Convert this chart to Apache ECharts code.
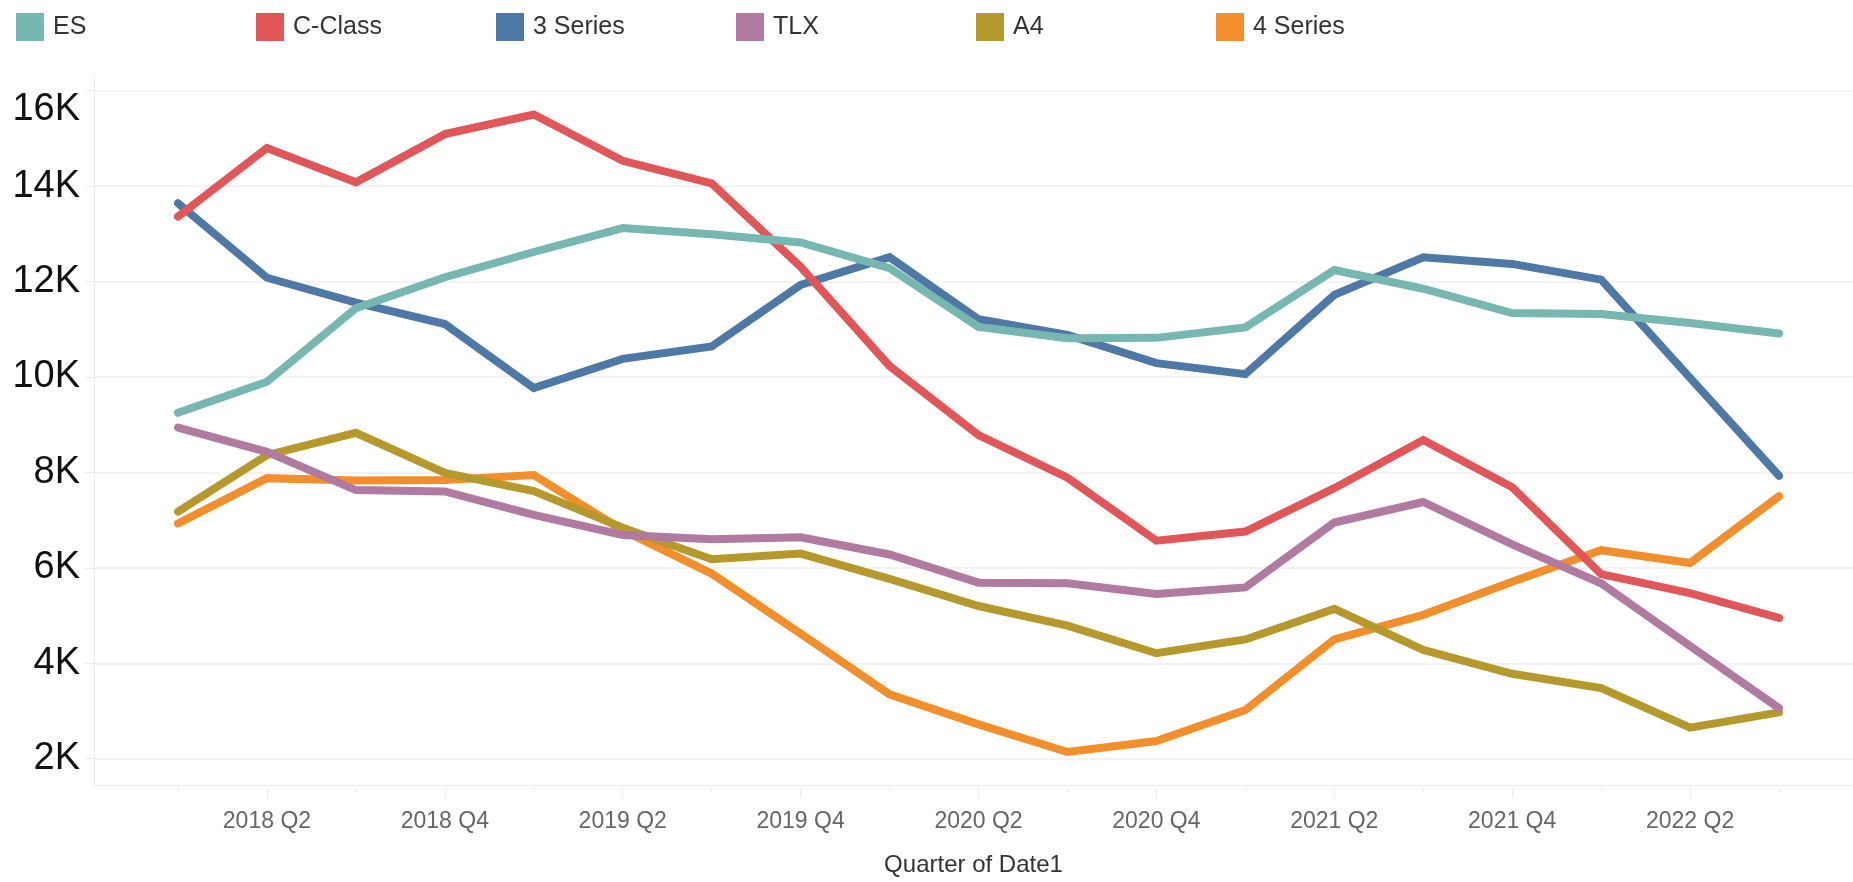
<!DOCTYPE html>
<html>
<head>
<meta charset="utf-8">
<title>Quarterly sales by model</title>
<script src="https://cdn.jsdelivr.net/npm/echarts/dist/echarts.min.js"></script>
<style>
  html, body { margin: 0; padding: 0; background: #fff; }
  #chart { width: 1853px; height: 882px; }
</style>
</head>
<body>
<div id="chart"></div>
<script>
// data (quarterly sales)
const quarters = [
  '2018 Q1', '2018 Q2', '2018 Q3', '2018 Q4',
  '2019 Q1', '2019 Q2', '2019 Q3', '2019 Q4',
  '2020 Q1', '2020 Q2', '2020 Q3', '2020 Q4',
  '2021 Q1', '2021 Q2', '2021 Q3', '2021 Q4',
  '2022 Q1', '2022 Q2', '2022 Q3',
];
const esSales = [9250, 9900, 11440, 12090, 12620, 13120, 12990, 12820, 12280, 11050, 10810, 10820, 11040, 12240, 11850, 11340, 11320, 11130, 10910];
const cClassSales = [13360, 14800, 14080, 15090, 15500, 14530, 14060, 12310, 10230, 8780, 7890, 6570, 6760, 7670, 8680, 7690, 5870, 5470, 4950];
const series3Sales = [13640, 12080, 11560, 11110, 9770, 10380, 10640, 11930, 12510, 11210, 10880, 10290, 10060, 11720, 12510, 12370, 12040, 9980, 7930];
const tlxSales = [8940, 8430, 7630, 7600, 7110, 6690, 6600, 6640, 6280, 5690, 5675, 5450, 5590, 6950, 7380, 6490, 5675, 4360, 3060];
const a4Sales = [7180, 8360, 8830, 7990, 7610, 6840, 6180, 6300, 5770, 5200, 4790, 4210, 4500, 5140, 4280, 3780, 3480, 2650, 2970];
const series4Sales = [6930, 7880, 7830, 7840, 7945, 6790, 5880, 4620, 3350, 2720, 2140, 2370, 3020, 4500, 5015, 5710, 6370, 6100, 7500];

const yTicks = { min: 2000, max: 16000, step: 2000 };

const models = [
  { name: 'ES', data: esSales, color: '#76b7b2' },
  { name: 'C-Class', data: cClassSales, color: '#e15759' },
  { name: '3 Series', data: series3Sales, color: '#4e79a7' },
  { name: 'TLX', data: tlxSales, color: '#b07aa1' },
  { name: 'A4', data: a4Sales, color: '#b6992d' },
  { name: '4 Series', data: series4Sales, color: '#f28e2b' },
];

const font = '"Liberation Sans", Arial, sans-serif';
const lineGrey = '#ebebeb';

// pixel layout of the plot pane
const gridTop = 90.7;     // 16K line
const gridBottom = 758.7; // 2K line
const paneTop = 76.7;
const paneBottom = 788;
const pxPerUnit = (gridBottom - gridTop) / (yTicks.max - yTicks.min);
const dataMax = yTicks.max + (gridTop - paneTop) / pxPerUnit;
const dataMin = yTicks.min - (paneBottom - gridBottom) / pxPerUnit;

const chart = echarts.init(document.getElementById('chart'));

chart.setOption({
  animation: false,
  textStyle: { fontFamily: font },
  color: models.map(m => m.color),
  legend: models.map((m, i) => ({
    data: [m.name],
    left: 16 + 240 * i,
    top: 13,
    padding: 0,
    itemWidth: 28,
    itemHeight: 28,
    icon: 'rect',
    selectedMode: false,
    textStyle: {
      fontSize: 25,
      color: '#333',
      fontFamily: font,
      padding: [2, 0, 0, 4],
    },
  })),
  grid: [
    // gridlines + y labels
    { left: 94, right: 0, top: gridTop, bottom: 882 - gridBottom },
    // pane frame
    { left: 94, right: 0, top: paneTop, bottom: 882 - paneBottom },
    // data
    { left: 178, right: 74, top: paneTop, bottom: 882 - paneBottom },
  ],
  xAxis: [
    { gridIndex: 0, type: 'value', show: false, min: 0, max: 1 },
    {
      gridIndex: 1,
      type: 'value',
      position: 'bottom',
      min: 0,
      max: 1,
      axisLine: { show: true, lineStyle: { color: lineGrey, width: 1 } },
      axisTick: { show: false },
      axisLabel: { show: false },
      splitLine: { show: false },
      name: 'Quarter of Date1',
      nameLocation: 'middle',
      nameGap: 68,
      nameTextStyle: { fontSize: 24, color: '#333', fontFamily: font },
    },
    {
      gridIndex: 2,
      type: 'category',
      position: 'bottom',
      offset: 0,
      data: quarters,
      boundaryGap: false,
      axisLine: { show: false },
      axisTick: {
        show: true,
        length: 10,
        interval: (i) => i % 2 === 1,
        lineStyle: { color: lineGrey },
      },
      axisLabel: {
        interval: (i) => i % 2 === 1,
        margin: 22,
        fontSize: 23,
        color: '#666',
        fontFamily: font,
      },
      splitLine: { show: false },
    },
    {
      gridIndex: 2,
      type: 'category',
      position: 'bottom',
      offset: 0,
      data: quarters,
      boundaryGap: false,
      axisLine: { show: false },
      axisTick: { show: true, length: 4, interval: 0, lineStyle: { color: lineGrey } },
      axisLabel: { show: false },
      splitLine: { show: false },
    },
  ],
  yAxis: [
    {
      gridIndex: 0,
      type: 'value',
      min: yTicks.min,
      max: yTicks.max,
      interval: yTicks.step,
      axisLine: { show: false },
      axisTick: { show: true, length: 9, lineStyle: { color: lineGrey } },
      axisLabel: {
        margin: 14,
        fontSize: 38,
        color: '#111',
        fontFamily: font,
        verticalAlignMaxLabel: 'top',
        formatter: (v) => v / 1000 + 'K',
      },
      splitLine: { show: true, lineStyle: { color: '#efefef', width: 1.5 } },
    },
    {
      gridIndex: 1,
      type: 'value',
      min: 0,
      max: 1,
      axisLine: { show: true, lineStyle: { color: lineGrey, width: 1 } },
      axisTick: { show: false },
      axisLabel: { show: false },
      splitLine: { show: false },
    },
    {
      gridIndex: 2,
      type: 'value',
      show: false,
      min: dataMin,
      max: dataMax,
    },
  ],
  series: models.map((m, i) => ({
    name: m.name,
    type: 'line',
    xAxisIndex: 2,
    yAxisIndex: 2,
    data: m.data,
    showSymbol: false,
    symbol: 'none',
    z: 2 + models.length - i,
    itemStyle: { color: m.color },
    lineStyle: { width: 8, color: m.color, cap: 'round', join: 'miter' },
  })),
});
</script>
</body>
</html>
